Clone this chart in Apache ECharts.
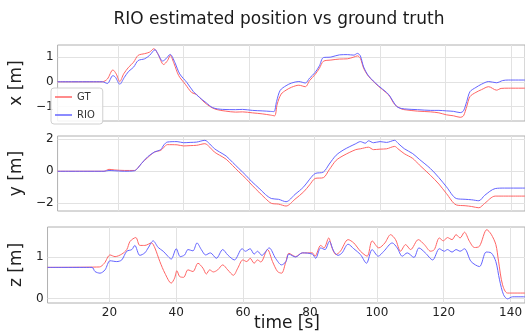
<!DOCTYPE html>
<html>
<head>
<meta charset="utf-8">
<script src="https://cdn.jsdelivr.net/npm/echarts@6/dist/echarts.min.js"></script>
<style>
  html, body { margin: 0; padding: 0; background: #fff; }
  #chart { width: 525px; height: 335px; }
</style>
</head>
<body>
<div id="chart"></div>
<script>
// data: [time s, value m]
const xGT = [[1.5,0],[15.2,0],[16.7,0.11],[18.4,0.48],[19.4,0.32],[20.5,0.01],[21.7,0.32],[23.2,0.59],[24.7,0.79],[26.1,1.07],[28.1,1.14],[29.6,1.2],[30.9,1.34],[32.1,1.14],[33.9,0.7],[35.1,0.86],[35.9,1.07],[37.1,0.73],[38.5,0.25],[40.5,-0.1],[42.5,-0.44],[43.9,-0.51],[45.9,-0.78],[47.9,-0.99],[49.9,-1.12],[52.9,-1.19],[55.9,-1.23],[58,-1.22],[61,-1.26],[64,-1.3],[66.5,-1.35],[67.8,-1.38],[68.6,-0.9],[69.8,-0.5],[71.3,-0.34],[73,-0.22],[75.2,-0.14],[77.2,-0.2],[78.5,0.05],[80.2,0.3],[81.5,0.55],[82.7,0.83],[85,0.88],[87.6,0.92],[90,0.93],[92,1.0],[93.1,1.05],[94,0.95],[95,0.55],[96.5,0.22],[99.5,-0.18],[102,-0.45],[103,-0.6],[104.5,-0.92],[106.5,-1.1],[108,-1.14],[111.5,-1.19],[115.5,-1.22],[118,-1.26],[120.3,-1.34],[122.5,-1.38],[124.5,-1.44],[125.5,-1.38],[126.5,-1.0],[127.5,-0.6],[129.3,-0.43],[131,-0.32],[133.2,-0.2],[135.6,-0.34],[137,-0.27],[139.2,-0.26],[144.3,-0.26]];
const xRIO = [[1.5,0],[15.2,0],[16.7,-0.07],[18.4,0.25],[19.2,0.18],[20.5,-0.1],[21.9,0.18],[23.2,0.42],[24.7,0.59],[26.1,0.86],[28.1,0.93],[29.6,1.07],[31.3,1.3],[32.1,1.14],[33.6,0.84],[34.6,0.93],[35.9,1.11],[37.3,0.79],[38.8,0.32],[41,-0.03],[43,-0.4],[44.9,-0.64],[46.9,-0.85],[48.9,-1.05],[51.9,-1.12],[55.9,-1.13],[58,-1.12],[61,-1.16],[64,-1.18],[66.5,-1.2],[67.6,-1.21],[68.4,-0.8],[69.5,-0.35],[71.3,-0.16],[73,-0.05],[75.2,0.01],[77.2,-0.05],[78.5,0.15],[80.2,0.38],[81.5,0.65],[82.7,0.98],[85,1.0],[87.6,1.09],[90,1.1],[92,1.08],[93.1,1.15],[94,1.05],[95,0.6],[96.5,0.24],[99.5,-0.16],[102,-0.43],[103,-0.58],[104.5,-0.9],[105.5,-1.04],[107.5,-1.1],[111.5,-1.13],[115.5,-1.16],[118,-1.16],[120.3,-1.18],[122.5,-1.2],[124.5,-1.25],[125.5,-1.18],[126.5,-0.8],[127.5,-0.4],[129.3,-0.23],[131,-0.1],[133.2,0.01],[135.6,-0.04],[137.5,0.05],[139.2,0.07],[144.3,0.07]];

const yGT = [[1.5,0],[15.7,0],[17.2,0.12],[19,0.08],[22,0.05],[25,0.05],[26,0.2],[27.1,0.48],[29,0.85],[31.1,1.2],[33,1.3],[34,1.5],[35,1.66],[38,1.65],[40,1.58],[42,1.6],[44,1.62],[46.5,1.72],[48,1.5],[49.4,1.2],[51,1.0],[53,0.75],[55,0.35],[56.9,-0.04],[59,-0.45],[60.9,-0.87],[63,-1.3],[65,-1.7],[66.8,-2.0],[69,-2.05],[71.3,-2.17],[74,-1.75],[76.7,-1.28],[78.5,-0.85],[80.2,-0.45],[82.7,-0.4],[84.5,0.1],[86.6,0.68],[89,1.0],[92.6,1.35],[94,1.4],[96.5,1.5],[98,1.35],[100,1.38],[102,1.4],[104.5,1.55],[105.5,1.4],[107.4,1.1],[110,0.8],[112,0.4],[115.4,-0.25],[118,-0.8],[120.3,-1.39],[123.3,-2.1],[126,-2.15],[128,-2.2],[130.2,-2.28],[132,-2.0],[135.2,-1.55],[144.3,-1.55]];
const yRIO = [[1.5,0],[15.7,0],[17.2,0.05],[19,0.03],[22,0.0],[25,0.03],[26,0.2],[27.1,0.48],[29,0.9],[31.1,1.2],[33,1.35],[34,1.65],[35,1.82],[38,1.85],[40,1.78],[42,1.8],[44,1.82],[46.5,1.93],[48,1.7],[49.4,1.41],[51,1.2],[53,0.95],[55,0.55],[56.9,0.17],[59,-0.25],[60.9,-0.66],[63,-1.05],[65,-1.45],[66.8,-1.7],[69,-1.75],[71.3,-1.9],[74,-1.45],[76.7,-0.97],[78.5,-0.5],[80.2,-0.14],[82.7,-0.05],[84.5,0.45],[86.6,1.0],[89,1.35],[92.6,1.72],[94,1.85],[95.5,1.75],[96.5,1.9],[98,1.78],[100,1.85],[102,1.8],[104.5,1.93],[105.5,1.75],[107.4,1.41],[110,1.1],[112,0.75],[115.4,0.17],[118,-0.4],[120.3,-0.97],[123.3,-1.7],[126,-1.75],[128,-1.78],[130.2,-1.84],[132,-1.5],[135.2,-1.08],[138,-1.05],[144.3,-1.05]];

const zGT = [[1.5,0.75],[17,0.76],[18.5,0.85],[20.2,1.05],[21.7,1.01],[23.7,1.07],[25.2,1.18],[26.2,1.38],[27.9,1.47],[29.1,1.28],[30.6,1.28],[32.6,1.34],[33.6,1.22],[35.1,0.89],[36.6,0.61],[38.5,0.37],[39.5,0.49],[40.2,0.67],[41,0.53],[42.2,0.51],[43.5,0.69],[45,0.65],[46.5,0.85],[48,0.73],[49,0.59],[50,0.69],[51.1,0.64],[52.4,0.69],[53.9,0.81],[55.4,0.69],[57.1,0.56],[58.4,0.73],[59.9,0.93],[61.1,0.89],[62.1,0.97],[63.3,0.85],[64.3,0.93],[65.3,0.88],[67.3,1.18],[68.8,0.89],[70.3,0.65],[71.5,0.61],[72.8,0.89],[73.7,1.09],[75.7,1.01],[77.7,1.1],[80.7,1.1],[81.5,1.02],[83.2,1.28],[84.2,1.22],[85.6,1.46],[86.6,1.22],[87.8,1.06],[89.1,1.14],[91.4,1.42],[93.1,1.34],[95.1,1.14],[97.1,1.02],[98.6,1.39],[100.6,1.22],[102.4,1.34],[104.1,1.54],[105.6,1.42],[107.1,1.14],[108.6,1.3],[110.1,1.18],[112.4,1.42],[114.2,1.3],[116.1,1.14],[117.2,1.18],[118.7,1.46],[119.9,1.39],[121.1,1.47],[122.5,1.42],[123.7,1.54],[124.9,1.46],[126.2,1.6],[127.7,1.38],[129.2,1.23],[130.7,1.26],[132.9,1.66],[134.2,1.55],[135.6,1.3],[136.4,0.9],[137.6,0.33],[139.1,0.13],[144.3,0.13]];
const zRIO = [[1.5,0.75],[14.8,0.75],[15.7,0.65],[17.2,0.61],[18.7,0.69],[20.2,0.91],[22.2,0.89],[23.7,0.93],[25.2,1.14],[26.7,1.18],[27.6,1.28],[29.1,1.04],[30.6,1.1],[31.6,1.22],[33.1,1.39],[34.6,1.23],[36.1,1.14],[37.6,1.01],[38.5,0.95],[40,1.2],[41.2,1.01],[42.5,1.05],[43.5,1.18],[45,1.15],[46.2,1.34],[47.5,1.18],[48.8,1.05],[50.2,1.1],[52,0.97],[53.9,1.18],[55.4,1.05],[57.4,0.93],[59.7,1.2],[60.7,1.14],[62.1,1.2],[63.3,1.07],[64.3,1.14],[65.6,1.04],[67.8,1.22],[69.7,0.97],[71.5,0.81],[72.8,0.89],[73.7,1.07],[75.7,1.0],[77.7,1.1],[80.7,1.07],[81.7,0.97],[83.2,1.22],[84.5,1.18],[85.8,1.38],[87.1,1.14],[88.4,1.04],[89.6,1.1],[91.4,1.31],[93.1,1.2],[95.1,1.06],[96.9,0.85],[98.6,1.18],[100.4,1.02],[102.1,1.14],[104.6,1.34],[106.1,1.22],[107.6,1.02],[109.1,1.1],[111.1,0.99],[112.6,1.22],[114.5,1.1],[116.7,0.93],[118.7,1.2],[120.2,1.14],[121.1,1.18],[122.5,1.12],[123.7,1.18],[124.9,1.14],[126.2,1.2],[128.2,0.89],[130.7,0.77],[132.7,1.12],[134.2,1.1],[135.6,0.89],[136.7,0.45],[137.9,0.09],[139.1,-0.01],[140.6,0.04],[144.3,0.04]];

const timeTicks = [20, 40, 60, 80, 100, 120, 140];
const xTicks = [-1, 0, 1];
const yTicks = [-2, 0, 2];
const zTicks = [0, 1];
const axisNames = ['x [m]', 'y [m]', 'z [m]'];
const yRanges = [[-1.59, 1.49], [-2.48, 2.2], [-0.11, 1.725]];

const font = 'DejaVu Sans';
const gtColor = '#ff6464';
const rioColor = '#6464ff';

const chart = echarts.init(document.getElementById('chart'));

const grids = [
  { left: 47, top: 45, width: 480, height: 76 },
  { left: 47, top: 136, width: 480, height: 75 },
  { left: 47, top: 227, width: 480, height: 76 }
].map(g => Object.assign(g, { show: true, borderColor: '#b0b0b0', borderWidth: 1, containLabel: false }));

const xAxes = [0, 1, 2].map(i => ({
  type: 'value',
  gridIndex: i,
  min: 1.5,
  max: 144.3,
  axisLine: { show: false },
  axisTick: { show: false, customValues: timeTicks },
  axisLabel: {
    show: i === 2,
    customValues: timeTicks,
    color: '#222',
    fontFamily: font,
    fontSize: 12,
    margin: 4
  },
  splitLine: { show: true, lineStyle: { color: '#e2e2e2', width: 1 } }
}));

const yTickSets = [xTicks, yTicks, zTicks];
const yAxes = [0, 1, 2].map(i => ({
  type: 'value',
  gridIndex: i,
  min: yRanges[i][0],
  max: yRanges[i][1],
  name: axisNames[i],
  nameLocation: 'middle',
  nameGap: 22,
  nameTextStyle: { fontFamily: font, fontSize: 17, color: '#222' },
  axisLine: { show: false },
  axisTick: { show: false, customValues: yTickSets[i] },
  axisLabel: {
    customValues: yTickSets[i],
    color: '#222',
    fontFamily: font,
    fontSize: 12,
    margin: 4,
    formatter: v => (v < 0 ? '\u2212' + Math.abs(v) : String(v))
  },
  splitLine: { show: true, lineStyle: { color: '#e2e2e2', width: 1 } }
}));

const pairs = [[xGT, xRIO], [yGT, yRIO], [zGT, zRIO]];
const series = [];
pairs.forEach((p, i) => {
  series.push({
    name: 'GT', type: 'line', xAxisIndex: i, yAxisIndex: i, data: p[0],
    symbol: 'none', smooth: 0.3, lineStyle: { color: gtColor, width: 1 },
    itemStyle: { color: gtColor }, z: 2
  });
  series.push({
    name: 'RIO', type: 'line', xAxisIndex: i, yAxisIndex: i, data: p[1],
    symbol: 'none', smooth: 0.3, lineStyle: { color: rioColor, width: 1 },
    itemStyle: { color: rioColor }, z: 3
  });
});

chart.setOption({
  animation: false,
  backgroundColor: '#fff',
  grid: grids,
  xAxis: xAxes,
  yAxis: yAxes,
  legend: {
    data: ['GT', 'RIO'],
    orient: 'vertical',
    left: 51,
    top: 88,
    icon: 'rect',
    itemWidth: 17,
    itemHeight: 1.5,
    itemGap: 8,
    padding: [4, 8, 4, 4],
    borderColor: '#d0d0d0',
    borderWidth: 1,
    borderRadius: 3,
    backgroundColor: 'rgba(255,255,255,0.85)',
    textStyle: { fontFamily: font, fontSize: 10, color: '#333' }
  },
  graphic: [
    {
      type: 'text', x: 279, y: 20,
      style: { text: 'RIO estimated position vs ground truth', font: '17px "DejaVu Sans"', fill: '#1a1a1a', align: 'center', verticalAlign: 'middle' }
    },
    {
      type: 'text', x: 287, y: 324,
      style: { text: 'time [s]', font: '17px "DejaVu Sans"', fill: '#1a1a1a', align: 'center', verticalAlign: 'middle' }
    }
  ],
  series: series
});
</script>
</body>
</html>
